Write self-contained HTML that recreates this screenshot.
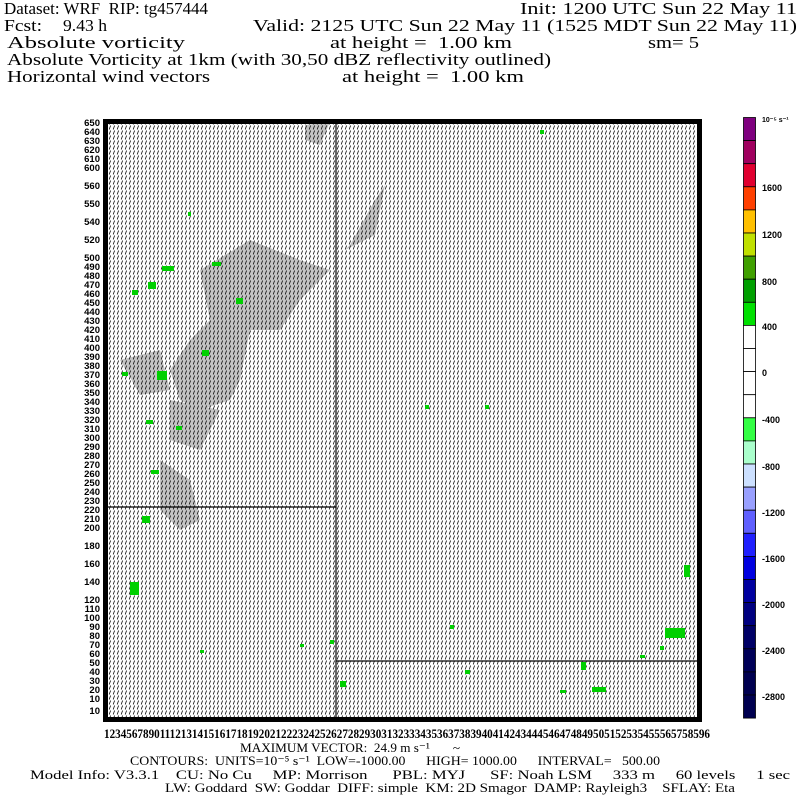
<!DOCTYPE html>
<html><head><style>
body{margin:0;background:#fff;width:800px;height:800px;overflow:hidden;position:relative;}
text{white-space:pre;}
</style></head><body>
<svg width="800" height="800" style="position:absolute;left:0;top:0" xml:space="preserve">
<defs>
<pattern id="w" width="4" height="5" patternUnits="userSpaceOnUse">
<line x1="1.2" y1="4.5" x2="2.6" y2="0.5" stroke="#000" stroke-width="0.75"/>
</pattern>
</defs>
<g font-family="Liberation Serif,serif" font-size="17">
<text x="4" y="14" textLength="204" lengthAdjust="spacingAndGlyphs">Dataset: WRF  RIP: tg457444</text>
<text x="520" y="14" textLength="277" lengthAdjust="spacingAndGlyphs">Init: 1200 UTC Sun 22 May 11</text>
<text x="4" y="31" textLength="38" lengthAdjust="spacingAndGlyphs">Fcst:</text>
<text x="63" y="31" textLength="44" lengthAdjust="spacingAndGlyphs">9.43 h</text>
<text x="253" y="31" textLength="544" lengthAdjust="spacingAndGlyphs">Valid: 2125 UTC Sun 22 May 11 (1525 MDT Sun 22 May 11)</text>
<text x="7" y="48" textLength="178" lengthAdjust="spacingAndGlyphs">Absolute vorticity</text>
<text x="330" y="48" textLength="182" lengthAdjust="spacingAndGlyphs">at height =  1.00 km</text>
<text x="648" y="48" textLength="51" lengthAdjust="spacingAndGlyphs">sm= 5</text>
<text x="7" y="65" textLength="544" lengthAdjust="spacingAndGlyphs">Absolute Vorticity at 1km (with 30,50 dBZ reflectivity outlined)</text>
<text x="7" y="82" textLength="203" lengthAdjust="spacingAndGlyphs">Horizontal wind vectors</text>
<text x="342" y="82" textLength="182" lengthAdjust="spacingAndGlyphs">at height =  1.00 km</text>
</g>
<rect x="106" y="122" width="593" height="597" fill="#fff"/>
<g fill="#c4c4c4">
<path d="M200 270 L250 240 L300 260 L330 270 L300 300 L280 330 L250 330 L240 380 L230 400 L200 410 L180 400 L170 370 L190 340 L210 320 Z"/>
<path d="M160 460 L190 480 L200 520 L180 530 L160 510 Z"/>
<path d="M345 250 L375 235 L385 185 L375 200 L350 245 Z"/>
<path d="M120 360 L160 350 L170 390 L140 395 Z"/>
<path d="M170 400 L220 410 L200 450 L170 440 Z"/>
<path d="M305 125 L330 122 L320 145 L305 140 Z"/>
</g>
<rect x="106" y="122" width="593" height="597" fill="url(#w)"/>
<g fill="#00d000">
<rect x="148" y="282" width="8" height="7"/><rect x="162" y="266" width="12" height="5"/><rect x="132" y="290" width="6" height="5"/>
<rect x="212" y="262" width="9" height="4"/><rect x="236" y="298" width="7" height="6"/><rect x="202" y="350" width="7" height="6"/>
<rect x="157" y="371" width="10" height="9"/><rect x="122" y="372" width="6" height="4"/><rect x="146" y="420" width="7" height="4"/>
<rect x="151" y="470" width="8" height="4"/><rect x="142" y="516" width="8" height="7"/><rect x="130" y="582" width="9" height="13"/>
<rect x="176" y="426" width="6" height="4"/><rect x="665" y="628" width="20" height="10"/><rect x="592" y="687" width="14" height="5"/>
<rect x="340" y="681" width="6" height="6"/><rect x="581" y="662" width="5" height="8"/><rect x="684" y="565" width="6" height="12"/>
<rect x="485" y="405" width="4" height="4"/><rect x="425" y="405" width="4" height="4"/><rect x="450" y="625" width="4" height="4"/>
<rect x="330" y="640" width="4" height="4"/><rect x="540" y="130" width="4" height="4"/><rect x="188" y="212" width="3" height="4"/>
<rect x="300" y="644" width="4" height="3"/><rect x="660" y="646" width="4" height="4"/><rect x="640" y="655" width="5" height="3"/>
<rect x="560" y="690" width="6" height="3"/><rect x="465" y="670" width="5" height="4"/><rect x="200" y="650" width="4" height="3"/>
</g>
<g stroke="#000" stroke-width="1.2">
<line x1="336" y1="122" x2="336" y2="719"/>
<line x1="106" y1="507" x2="336" y2="507"/>
<line x1="336" y1="661" x2="699" y2="661"/>
</g>
<rect x="105.5" y="121.5" width="594" height="598" fill="none" stroke="#000" stroke-width="5"/>
<g font-family="Liberation Sans,sans-serif" font-size="9.5" font-weight="bold" text-anchor="end">
<text x="100" y="126">650</text><text x="100" y="135">640</text><text x="100" y="144">630</text><text x="100" y="153">620</text><text x="100" y="162">610</text><text x="100" y="171">600</text><text x="100" y="189">560</text><text x="100" y="207">550</text><text x="100" y="225">540</text><text x="100" y="243">520</text><text x="100" y="261">500</text><text x="100" y="270">490</text><text x="100" y="279">480</text><text x="100" y="288">470</text><text x="100" y="297">460</text><text x="100" y="306">450</text><text x="100" y="315">440</text><text x="100" y="324">430</text><text x="100" y="333">420</text><text x="100" y="342">410</text><text x="100" y="351">400</text><text x="100" y="360">390</text><text x="100" y="369">380</text><text x="100" y="378">370</text><text x="100" y="387">360</text><text x="100" y="396">350</text><text x="100" y="405">340</text><text x="100" y="414">330</text><text x="100" y="423">320</text><text x="100" y="432">310</text><text x="100" y="441">300</text><text x="100" y="450">290</text><text x="100" y="459">280</text><text x="100" y="468">270</text><text x="100" y="477">260</text><text x="100" y="486">250</text><text x="100" y="495">240</text><text x="100" y="504">230</text><text x="100" y="513">220</text><text x="100" y="522">210</text><text x="100" y="531">200</text><text x="100" y="549">180</text><text x="100" y="567">160</text><text x="100" y="585">140</text><text x="100" y="603">120</text><text x="100" y="612">110</text><text x="100" y="621">100</text><text x="100" y="630">90</text><text x="100" y="639">80</text><text x="100" y="648">70</text><text x="100" y="657">60</text><text x="100" y="666">50</text><text x="100" y="675">40</text><text x="100" y="684">30</text><text x="100" y="693">20</text><text x="100" y="702">10</text><text x="100" y="714">10</text>
</g>
<text x="104" y="738" font-family="Liberation Serif,serif" font-size="13" font-weight="bold" textLength="606" lengthAdjust="spacingAndGlyphs">1234567890111213141516171819202122232425262728293031323334353637383940414243444546474849505152535455565758596</text>
<g id="cb"></g>
<g font-family="Liberation Sans,sans-serif" font-size="9" font-weight="bold">
<text x="762" y="122" font-size="7">10⁻⁵ s⁻¹</text>
<text x="762" y="191">1600</text><text x="762" y="238">1200</text><text x="762" y="285">800</text><text x="762" y="330">400</text><text x="762" y="376">0</text><text x="762" y="423">-400</text><text x="762" y="470">-800</text><text x="762" y="516">-1200</text><text x="762" y="562">-1600</text><text x="762" y="608">-2000</text><text x="762" y="654">-2400</text><text x="762" y="700">-2800</text>
</g>
<g font-family="Liberation Serif,serif" font-size="13">
<text x="240" y="752" textLength="220" lengthAdjust="spacingAndGlyphs">MAXIMUM VECTOR:  24.9 m s⁻¹       ~</text>
<text x="130" y="765" textLength="530" lengthAdjust="spacingAndGlyphs">CONTOURS:  UNITS=10⁻⁵ s⁻¹  LOW=-1000.00      HIGH= 1000.00      INTERVAL=   500.00</text>
<text x="30" y="779" textLength="760" lengthAdjust="spacingAndGlyphs">Model Info: V3.3.1    CU: No Cu     MP: Morrison      PBL: MYJ      SF: Noah LSM     333 m     60 levels     1 sec</text>
<text x="165" y="792" textLength="570" lengthAdjust="spacingAndGlyphs">LW: Goddard  SW: Goddar  DIFF: simple  KM: 2D Smagor  DAMP: Rayleigh3    SFLAY: Eta</text>
</g>
</svg>
<script>
var c=["#7f007f","#a0005f","#e00030","#ff4000","#ffc000","#c0e000","#40a000","#00a000","#00e000","#fff","#fff","#fff","#fff","#33ff44","#aaffcc","#cce0ff","#99a0ff","#6060ff","#2020ff","#0000e0","#0000a0","#000080","#000066","#000058","#000050","#000050"];
var g=document.getElementById("cb"),s="";
for(var i=0;i<26;i++){s+='<rect x="743.5" y="'+(117.5+i*23.1)+'" width="12" height="23.1" fill="'+c[i]+'" stroke="#000" stroke-width="0.8"/>';}
g.innerHTML=s;
</script>
</body></html>
